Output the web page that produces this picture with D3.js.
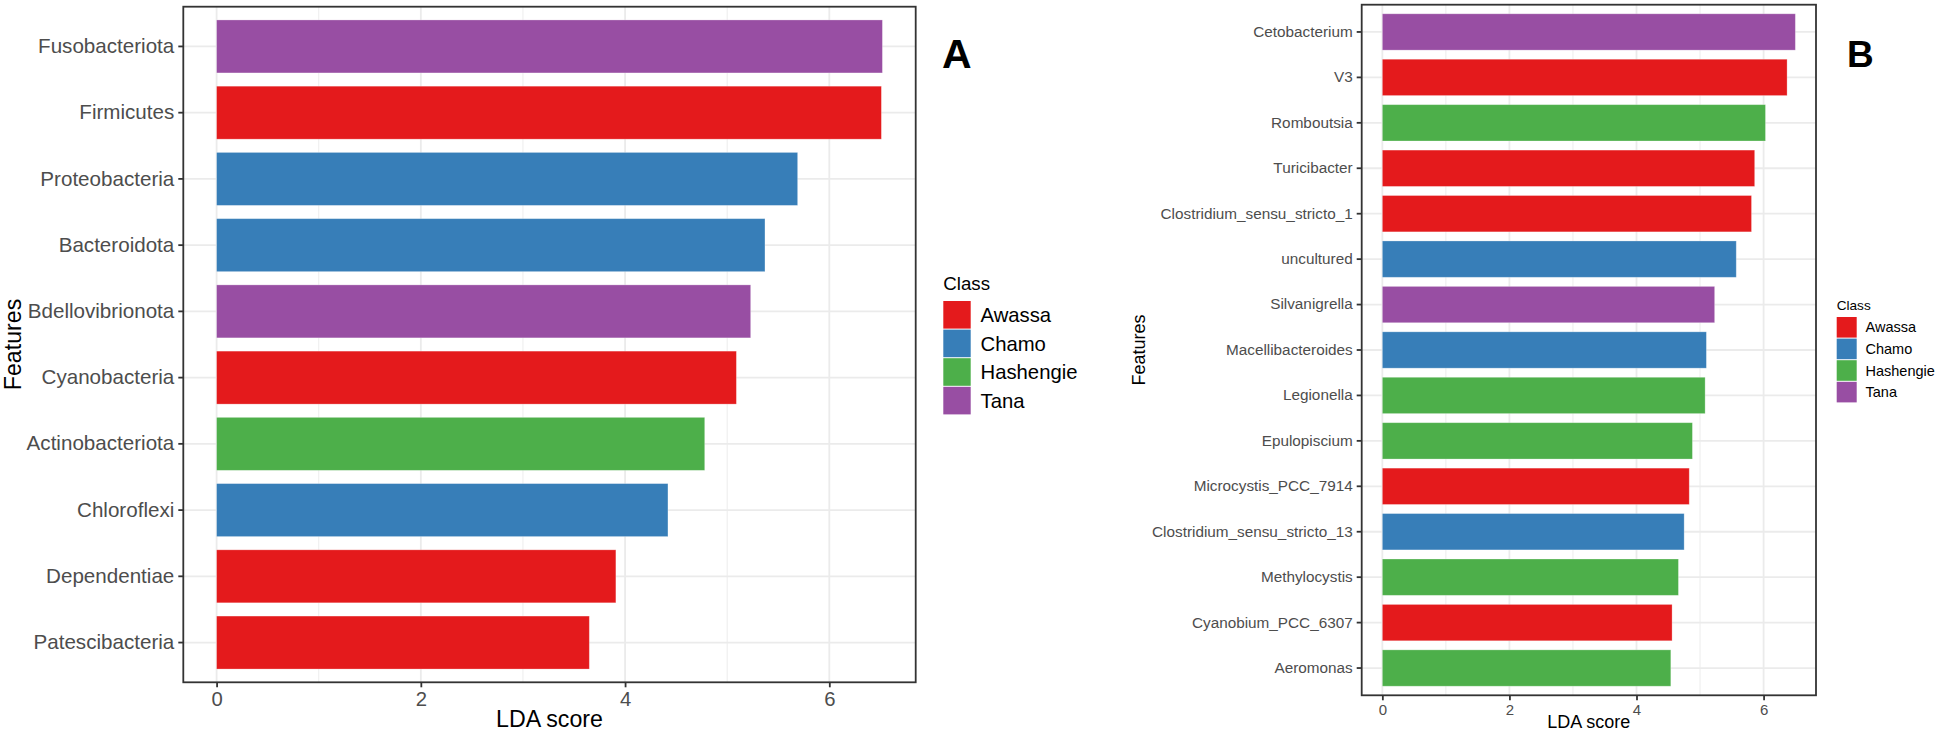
<!DOCTYPE html>
<html>
<head>
<meta charset="utf-8">
<script src="https://cdn.jsdelivr.net/npm/d3@7"></script>
<style>
  html, body { margin: 0; padding: 0; background: #fff; }
  svg { display: block; font-family: "Liberation Sans", Arial, Helvetica, sans-serif; }
</style>
</head>
<body>
<svg id="chart" width="1943" height="732"></svg>
<script>
// ---------------- DATA ----------------
const classNames = ["Awassa", "Chamo", "Hashengie", "Tana"];
const classColors = ["#E41A1C", "#377EB8", "#4DAF4A", "#984EA3"];

// Panel A (phylum level)
const featuresA = ["Fusobacteriota", "Firmicutes", "Proteobacteria", "Bacteroidota", "Bdellovibrionota",
                   "Cyanobacteria", "Actinobacteriota", "Chloroflexi", "Dependentiae", "Patescibacteria"];
const scoresA = [6.52, 6.51, 5.69, 5.37, 5.23, 5.09, 4.78, 4.42, 3.91, 3.65];
const classA = ["Tana", "Awassa", "Chamo", "Chamo", "Tana", "Awassa", "Hashengie", "Chamo", "Awassa", "Awassa"];

// Panel B (genus level)
const featuresB = ["Cetobacterium", "V3", "Romboutsia", "Turicibacter", "Clostridium_sensu_stricto_1",
                   "uncultured", "Silvanigrella", "Macellibacteroides", "Legionella", "Epulopiscium",
                   "Microcystis_PCC_7914", "Clostridium_sensu_stricto_13", "Methylocystis",
                   "Cyanobium_PCC_6307", "Aeromonas"];
const scoresB = [6.50, 6.37, 6.03, 5.86, 5.81, 5.57, 5.23, 5.10, 5.08, 4.88, 4.83, 4.75, 4.66, 4.56, 4.54];
const classB = ["Tana", "Awassa", "Hashengie", "Awassa", "Awassa", "Chamo", "Tana", "Chamo", "Hashengie",
                "Hashengie", "Awassa", "Chamo", "Hashengie", "Awassa", "Hashengie"];

const majorTicks = [0, 2, 4, 6];
const minorTicks = [1, 3, 5];
const xTitle = "LDA score";
const yTitle = "Features";
const legendTitle = "Class";

// ---------------- DRAW ----------------
const svg = d3.select("#chart");
const color = d3.scaleOrdinal().domain(classNames).range(classColors);

function panel(cfg) {
  const { feats, scores, classes, left, right, top, bottom, fs, titleFs, tag, tagFs, tagX, tagY,
          xTitleY, yTitleX, legend } = cfg;
  const g = svg.append("g");
  const M = d3.max(scores);
  const x = d3.scaleLinear().domain([-0.05 * M, 1.05 * M]).range([left, right]);
  const y = d3.scaleBand().domain(feats).range([top, bottom]).paddingInner(0.2).paddingOuter(0.2);

  // grid
  g.append("g").selectAll("line").data(minorTicks).join("line")
    .attr("x1", d => x(d)).attr("x2", d => x(d)).attr("y1", top).attr("y2", bottom)
    .attr("stroke", "#EBEBEB").attr("stroke-width", 0.9);
  g.append("g").selectAll("line").data(majorTicks).join("line")
    .attr("x1", d => x(d)).attr("x2", d => x(d)).attr("y1", top).attr("y2", bottom)
    .attr("stroke", "#EBEBEB").attr("stroke-width", 1.8);
  g.append("g").selectAll("line").data(feats).join("line")
    .attr("x1", left).attr("x2", right)
    .attr("y1", d => y(d) + y.bandwidth() / 2).attr("y2", d => y(d) + y.bandwidth() / 2)
    .attr("stroke", "#EBEBEB").attr("stroke-width", 1.8);

  // bars
  g.append("g").selectAll("rect").data(feats).join("rect")
    .attr("x", x(0))
    .attr("y", d => y(d))
    .attr("width", (d, i) => x(scores[i]) - x(0))
    .attr("height", y.bandwidth())
    .attr("fill", (d, i) => color(classes[i]))
    .attr("stroke", "#ffffff").attr("stroke-opacity", 0.35).attr("stroke-width", 0.8);

  // border
  g.append("rect").attr("x", left).attr("y", top).attr("width", right - left).attr("height", bottom - top)
    .attr("fill", "none").attr("stroke", "#333333").attr("stroke-width", 1.8);

  // y axis
  const ya = g.append("g").attr("transform", `translate(${left},0)`)
    .call(d3.axisLeft(y).tickSize(5).tickPadding(4));
  ya.select(".domain").remove();
  ya.selectAll(".tick line").attr("stroke", "#333333").attr("stroke-width", 1.8);
  ya.selectAll(".tick text").attr("fill", "#4D4D4D").style("font-size", fs + "px")
    .style("font-family", "Liberation Sans, Arial, sans-serif");

  // x axis
  const xa = g.append("g").attr("transform", `translate(0,${bottom})`)
    .call(d3.axisBottom(x).tickValues(majorTicks).tickFormat(d3.format("d")).tickSize(5).tickPadding(4));
  xa.select(".domain").remove();
  xa.selectAll(".tick line").attr("stroke", "#333333").attr("stroke-width", 1.8);
  xa.selectAll(".tick text").attr("fill", "#4D4D4D").style("font-size", (fs - 0.3) + "px")
    .style("font-family", "Liberation Sans, Arial, sans-serif");

  // titles
  g.append("text").attr("x", (left + right) / 2).attr("y", xTitleY)
    .attr("text-anchor", "middle").attr("fill", "#000").style("font-size", titleFs + "px").text(xTitle);
  g.append("text").attr("transform", `translate(${yTitleX},${(top + bottom) / 2}) rotate(-90)`)
    .attr("text-anchor", "middle").attr("fill", "#000").style("font-size", titleFs + "px").text(yTitle);

  // tag
  g.append("text").attr("x", tagX).attr("y", tagY).attr("fill", "#000")
    .style("font-size", tagFs + "px").style("font-weight", "bold").text(tag);

  // legend
  const L = legend;
  const lg = g.append("g");
  lg.append("text").attr("x", L.x).attr("y", L.titleY).attr("fill", "#000")
    .style("font-size", L.titleFs + "px").text(legendTitle);
  const ly = d3.scaleBand().domain(classNames).range([L.keyTop, L.keyTop + L.step * classNames.length]);
  lg.selectAll("rect").data(classNames).join("rect")
    .attr("x", L.x).attr("y", d => ly(d) + 0.5).attr("width", L.keyW).attr("height", L.step - 1)
    .attr("fill", d => color(d));
  lg.selectAll("text.lab").data(classNames).join("text").attr("class", "lab")
    .attr("x", L.labX).attr("y", d => ly(d) + L.step / 2).attr("dy", "0.35em")
    .attr("fill", "#000").style("font-size", L.fs + "px").text(d => d);
}

panel({
  feats: featuresA, scores: scoresA, classes: classA,
  left: 183.3, right: 915.7, top: 6.7, bottom: 682.3,
  fs: 20.6, titleFs: 23.2, tag: "A", tagFs: 41, tagX: 942, tagY: 68.3,
  xTitleY: 726.5, yTitleX: 21,
  legend: { x: 943.3, titleY: 289.5, titleFs: 18.7, keyTop: 300.5, step: 28.6, keyW: 27.4, labX: 980.5, fs: 20.3 }
});

panel({
  feats: featuresB, scores: scoresB, classes: classB,
  left: 1361.7, right: 1816, top: 4.7, bottom: 695.3,
  fs: 15.3, titleFs: 18, tag: "B", tagFs: 37, tagX: 1847, tagY: 66.7,
  xTitleY: 728, yTitleX: 1145,
  legend: { x: 1836.7, titleY: 310, titleFs: 13.6, keyTop: 316.5, step: 21.6, keyW: 20, labX: 1865.5, fs: 14.5 }
});
</script>
</body>
</html>
